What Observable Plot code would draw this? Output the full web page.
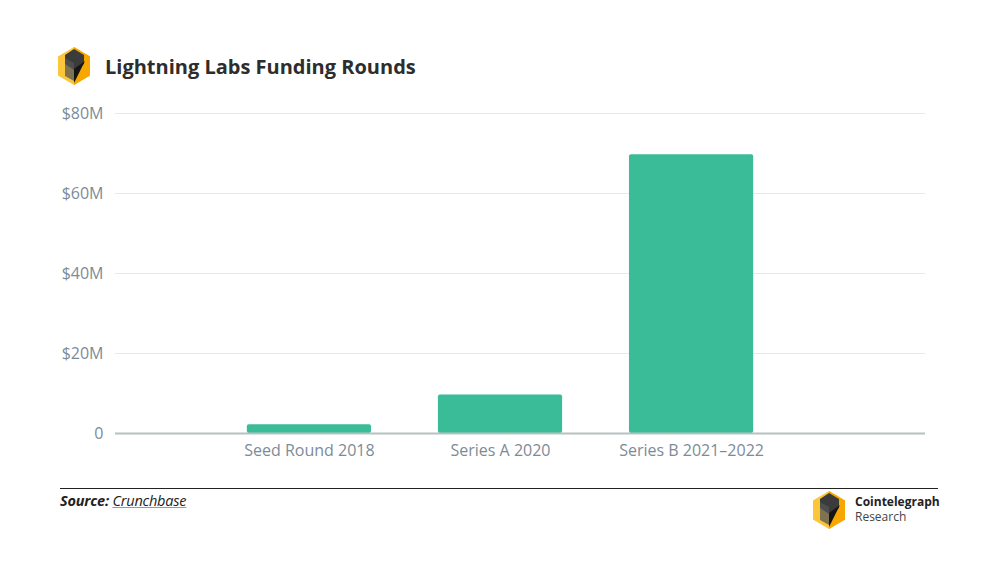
<!DOCTYPE html>
<html>
<head>
<meta charset="utf-8">
<script src="https://cdn.jsdelivr.net/npm/d3@7"></script>
<script src="https://cdn.jsdelivr.net/npm/@observablehq/plot@0.6"></script>
<style>
  html, body { margin: 0; padding: 0; background: #fff; }
  #page { position: relative; width: 1000px; height: 573px; overflow: hidden; font-family: "Open Sans", sans-serif; }
  .logo { position: absolute; }
  #title { position: absolute; left: 105px; top: 53px; font-size: 20px; font-weight: 700; color: #2d2d2d; white-space: nowrap; }
  #chart { position: absolute; left: 0; top: 90px; }
  #rule { position: absolute; left: 60px; top: 488px; width: 878px; height: 1px; background: #222; }
  #source { position: absolute; left: 60px; top: 491px; font-size: 14.5px; font-style: italic; color: #222; letter-spacing: -0.2px; }
  #source b { font-weight: 700; }
  #source u { text-decoration-color: #999; }
  #brand { position: absolute; left: 855px; top: 494px; font-size: 12px; line-height: 15px; color: #222; }
  #brand .b { font-weight: 700; }
  #brand .r { color: #444; }
</style>
</head>
<body>
<div id="page">
  <div id="logo1" class="logo" style="left:57px;top:47px;"></div>
  <div id="title">Lightning Labs Funding Rounds</div>
  <div id="chart"></div>
  <div id="rule"></div>
  <div id="source"><b>Source:</b> <u>Crunchbase</u></div>
  <div id="logo2" class="logo" style="left:812px;top:491px;"></div>
  <div id="brand"><div class="b">Cointelegraph</div><div class="r">Research</div></div>
</div>
<script>
// ---- data ----
const categories = ["Seed Round 2018", "Series A 2020", "Series B 2021–2022"];
const amounts = [2.2, 9.6, 69.7]; // $ millions
const yTicks = [0, 20, 40, 60, 80];
const yTickLabels = ["0", "$20M", "$40M", "$60M", "$80M"];

const data = categories.map((c, i) => ({category: c, amount: amounts[i]}));

// ---- logo ----
function logoSvg(s) {
  return `<svg width="${34*s}" height="${38*s}" viewBox="0 0 34 38">
    <polygon points="17,0 33,9.5 33,28.5 17,38 1,28.5 1,9.5" fill="#fcc63a"/>
    <polygon points="17,0 33,9.5 33,28.5 17,38" fill="#f7a700"/>
    <polygon points="17,2 27,8 27,17 17,23 8,17 8,8" fill="#3b3b3b"/>
    <polygon points="8,11 17,16 17,34 8,29" fill="#555" opacity="0.75"/>
    <polygon points="28,14 17,22 17,36 " fill="#151515"/>
  </svg>`;
}
document.getElementById("logo1").innerHTML = logoSvg(1);
document.getElementById("logo2").innerHTML = logoSvg(1);

// ---- chart ----
const chart = Plot.plot({
  width: 1000,
  height: 380,
  marginTop: 23,
  marginBottom: 37,
  marginLeft: 115,
  marginRight: 75,
  style: {fontFamily: "'Open Sans', sans-serif", fontSize: "16px", color: "#7d8b97", background: "transparent"},
  x: {domain: categories, range: [115, 885], paddingInner: 0.35, paddingOuter: 0.69, round: false, label: null},
  y: {domain: [0, 80], label: null},
  marks: [
    Plot.gridY(yTicks, {stroke: "#e8e8e8", strokeOpacity: 1, strokeWidth: 1}),
    Plot.barY(data, {x: "category", y: "amount", fill: "#3bbc98", rx: 2}),
    Plot.ruleY([0], {stroke: "#b6c1c1", strokeWidth: 2}),
    Plot.axisY({ticks: yTicks, tickSize: 0, tickPadding: 12, tickFormat: d => yTickLabels[yTicks.indexOf(d)], label: null}),
    Plot.axisX({tickSize: 0, tickPadding: 11, label: null})
  ]
});
document.getElementById("chart").appendChild(chart);
</script>
</body>
</html>
